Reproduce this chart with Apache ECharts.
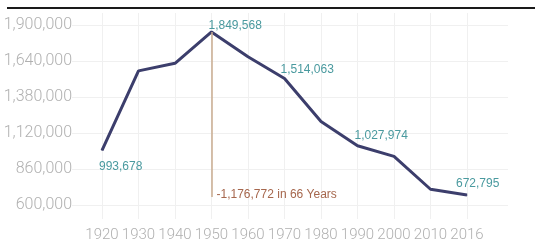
<!DOCTYPE html>
<html>
<head>
<meta charset="utf-8">
<script src="https://cdn.jsdelivr.net/npm/echarts@6/dist/echarts.min.js"></script>
<style>
  html, body { margin: 0; padding: 0; background: #fff; }
  #lineChart { width: 535px; height: 247px; }
</style>
</head>
<body>
<div id="lineChart"></div>
<script>
const years = ["1920", "1930", "1940", "1950", "1960", "1970", "1980", "1990", "2000", "2010", "2016"];
const population = [993678, 1568662, 1623452, 1849568, 1670144, 1514063, 1203339, 1027974, 951270, 713777, 672795];
const yTicks = [600000, 860000, 1120000, 1380000, 1640000, 1900000];
// which points carry a value label, and where it sits
const labelled = { 0: [-3, 17], 3: [-3, -6], 5: [-4, -8], 7: [-3, -10], 10: [-11, -11] };
const dropText = "-1,176,772 in 66 Years";

const fmt = (v) => v.toLocaleString("en-US");

const initLineChart = () => {
  const option = {
    animation: false,
    textStyle: { fontFamily: "Roboto, sans-serif" },
    graphic: [
      { type: "rect", shape: { x: 7, y: 7, width: 528, height: 2 }, style: { fill: "#1a1a1a" } },
    ],
    grid: [
      { left: 72, right: 27, top: 25, bottom: 42 },
      { left: 102, right: 68, top: 13, bottom: 28 },
    ],
    xAxis: [
      { gridIndex: 0, type: "value", min: 0, max: 1, show: false },
      {
        gridIndex: 1,
        type: "category",
        data: years,
        boundaryGap: false,
        axisLine: { show: false },
        axisTick: { show: false },
        axisLabel: { color: "#b0b0b0", fontSize: 15, margin: 9, fontWeight: 300, interval: 0 },
        splitLine: { show: true, interval: 0, lineStyle: { color: "#f0f0f0", width: 1 } },
      },
    ],
    yAxis: [
      {
        gridIndex: 0,
        type: "value",
        min: yTicks[0],
        max: yTicks[yTicks.length - 1],
        interval: yTicks[1] - yTicks[0],
        axisLine: { show: false },
        axisTick: { show: false },
        axisLabel: { color: "#b0b0b0", fontSize: 16, margin: 0, fontWeight: 300, formatter: fmt },
        splitLine: { lineStyle: { color: "#f0f0f0", width: 1 } },
      },
      {
        gridIndex: 1,
        type: "value",
        min: 498889,
        max: 1986667,
        show: false,
        splitLine: { show: false },
      },
    ],
    series: [
      {
        type: "line",
        xAxisIndex: 1,
        yAxisIndex: 1,
        symbol: "circle",
        symbolSize: 1,
        lineStyle: { color: "#3c3e6c", width: 3 },
        itemStyle: { color: "#3c3e6c" },
        data: population.map((v, i) => {
          const off = labelled[i];
          if (!off) return v;
          return {
            value: v,
            label: {
              show: true,
              position: "top",
              distance: 0,
              align: "left",
              verticalAlign: "middle",
              offset: off,
              color: "#4a9a9f",
              fontSize: 12,
              fontFamily: "Liberation Sans, sans-serif",
              formatter: fmt(v),
            },
          };
        }),
        markLine: {
          silent: true,
          symbol: "none",
          label: { show: false },
          lineStyle: { color: "#c8ab8f", width: 1.5, type: "solid" },
          data: [[{ coord: ["1950", 1849568] }, { coord: ["1950", 658000] }]],
        },
        markPoint: {
          silent: true,
          symbol: "circle",
          symbolSize: 0,
          data: [{ coord: ["1950", 673000] }],
          label: {
            show: true,
            position: "right",
            distance: 5,
            color: "#a6674d",
            fontSize: 12,
            fontFamily: "Liberation Sans, sans-serif",
            formatter: dropText,
          },
        },
      },
    ],
  };
  const chartDom = document.getElementById("lineChart");
  const myChart = echarts.init(chartDom);
  option && myChart.setOption(option);
};
initLineChart();
</script>
</body>
</html>
